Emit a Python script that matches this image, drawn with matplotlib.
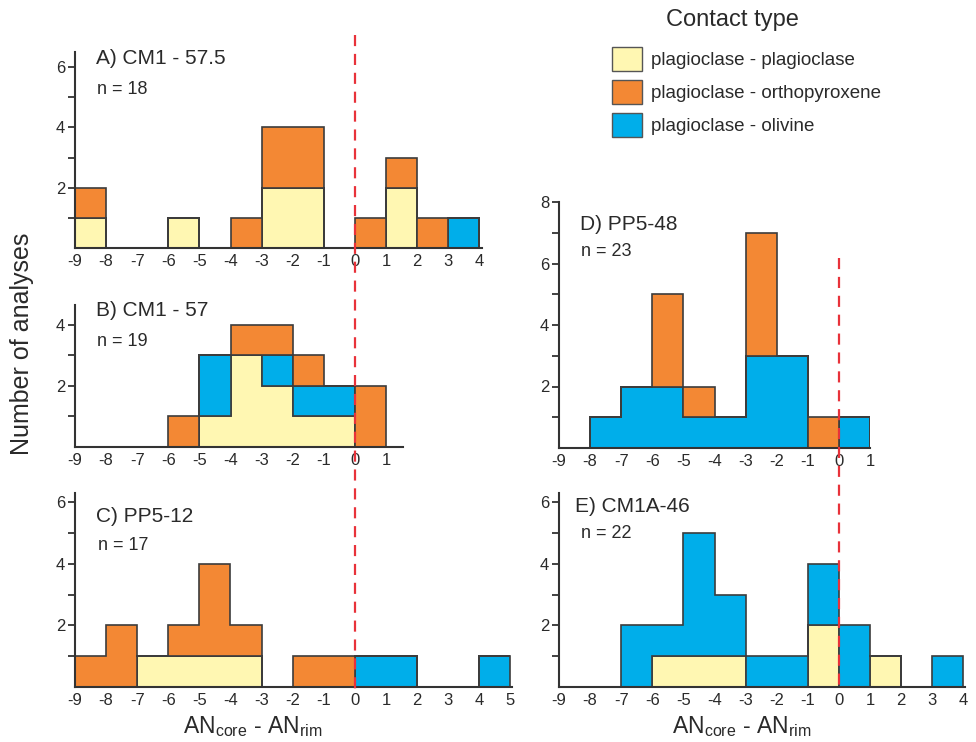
import matplotlib
matplotlib.use("Agg")
import matplotlib.pyplot as plt
import numpy as np
from matplotlib.patches import Patch
from matplotlib.transforms import blended_transform_factory

plt.rcParams['font.family'] = ['Liberation Sans', 'DejaVu Sans']
plt.rcParams['axes.unicode_minus'] = False

# bin edges (AN_core - AN_rim), width 1
edges = np.arange(-9, 6)   # -9 ... 5 -> 14 bins

types = ['plagioclase - plagioclase', 'plagioclase - orthopyroxene', 'plagioclase - olivine']
colors = {'plag': '#FFF7B2', 'opx': '#F38834', 'ol': '#00AEEA'}

# counts per bin:         -9 -8 -7 -6 -5 -4 -3 -2 -1  0  1  2  3  4
A_plag = np.array([1, 0, 0, 1, 0, 0, 2, 2, 0, 0, 2, 0, 0, 0])
A_ol   = np.array([0, 0, 0, 0, 0, 0, 0, 0, 0, 0, 0, 0, 1, 0])
A_opx  = np.array([1, 0, 0, 0, 0, 1, 2, 2, 0, 1, 1, 1, 0, 0])

B_plag = np.array([0, 0, 0, 0, 1, 3, 2, 1, 1, 0, 0, 0, 0, 0])
B_ol   = np.array([0, 0, 0, 0, 2, 0, 1, 1, 1, 0, 0, 0, 0, 0])
B_opx  = np.array([0, 0, 0, 1, 0, 1, 1, 1, 0, 2, 0, 0, 0, 0])

C_plag = np.array([0, 0, 1, 1, 1, 1, 0, 0, 0, 0, 0, 0, 0, 0])
C_ol   = np.array([0, 0, 0, 0, 0, 0, 0, 0, 0, 1, 1, 0, 0, 1])
C_opx  = np.array([1, 2, 0, 1, 3, 1, 0, 1, 1, 0, 0, 0, 0, 0])

D_plag = np.array([0, 0, 0, 0, 0, 0, 0, 0, 0, 0, 0, 0, 0, 0])
D_ol   = np.array([0, 1, 2, 2, 1, 1, 3, 3, 0, 1, 0, 0, 0, 0])
D_opx  = np.array([0, 0, 0, 3, 1, 0, 4, 0, 1, 0, 0, 0, 0, 0])

E_plag = np.array([0, 0, 0, 1, 1, 1, 0, 0, 2, 0, 1, 0, 0, 0])
E_ol   = np.array([0, 0, 2, 1, 4, 2, 1, 1, 2, 2, 0, 0, 1, 0])
E_opx  = np.array([0, 0, 0, 0, 0, 0, 0, 0, 0, 0, 0, 0, 0, 0])

W, H = 976, 742
fig = plt.figure(figsize=(W / 100, H / 100), dpi=100)
txt = '#2a2a2a'


def px(x, y):
    return x / W, 1 - y / H


def make_ax(left, bottom, top, xmax, ymax, yticks):
    # left / bottom / top in pixels, x scale ~31 px per unit
    width = (xmax + 9) * 31.1
    ax = fig.add_axes([left / W, 1 - bottom / H, width / W, (bottom - top) / H])
    ax.set_xlim(-9, xmax)
    ax.set_ylim(0, ymax)
    for s in ['top', 'right']:
        ax.spines[s].set_visible(False)
    for s in ['left', 'bottom']:
        ax.spines[s].set_color('#333333')
        ax.spines[s].set_linewidth(1.5)
    ax.set_yticks(yticks)
    ax.set_yticklabels([str(t) if t % 2 == 0 else '' for t in yticks])
    ax.tick_params(axis='y', length=5, width=1.3, color='#333333', labelsize=12,
                   pad=2, labelcolor=txt)
    ax.tick_params(axis='x', length=0, labelsize=12, pad=4, labelcolor=txt)
    return ax


def draw_stack(ax, plag, ol, opx):
    base = np.zeros(len(plag))
    for vals, c in [(plag, colors['plag']), (ol, colors['ol']), (opx, colors['opx'])]:
        top = base + vals
        if vals.sum() > 0:
            ax.stairs(top, edges, baseline=base, fill=True, facecolor=c,
                      edgecolor='#3c3c3c', linewidth=1.2, zorder=2)
        base = top


axA = make_ax(75, 248, 52, 4.1, 6.5, range(1, 7))
axA.set_xticks(range(-9, 5))
draw_stack(axA, A_plag, A_ol, A_opx)

axB = make_ax(75, 447, 305, 1.55, 4.65, range(1, 5))
axB.set_xticks(range(-9, 2))
draw_stack(axB, B_plag, B_ol, B_opx)

axC = make_ax(75, 687, 493, 5.05, 6.3, range(1, 7))
axC.set_xticks(range(-9, 6))
draw_stack(axC, C_plag, C_ol, C_opx)

axD = make_ax(559, 448, 202, 1.0, 8, range(1, 9))
axD.set_xticks(range(-9, 2))
draw_stack(axD, D_plag, D_ol, D_opx)

axE = make_ax(559, 687, 493, 4.05, 6.3, range(1, 7))
axE.set_xticks(range(-9, 5))
draw_stack(axE, E_plag, E_ol, E_opx)

# red dashed zero lines
red = '#E8323A'
trL = blended_transform_factory(axC.transData, fig.transFigure)
axC.plot([0, 0], [1 - 35 / H, 1 - 690 / H], transform=trL, color=red, lw=1.6,
         ls=(0, (5, 3.5)), clip_on=False, zorder=5)
trR = blended_transform_factory(axE.transData, fig.transFigure)
axE.plot([0, 0], [1 - 258 / H, 1 - 687 / H], transform=trR, color=red, lw=1.6,
         ls=(0, (5, 3.5)), clip_on=False, zorder=5)

# panel labels
labels = [("A) CM1 - 57.5", "n = 18", (96, 58), (97, 89)),
          ("B) CM1 - 57", "n = 19", (96, 311), (97, 342)),
          ("C) PP5-12", "n = 17", (96, 517), (98, 545)),
          ("D) PP5-48", "n = 23", (580, 224), (581, 252)),
          ("E) CM1A-46", "n = 22", (575, 506), (581, 533))]
for title, n, p1, p2 in labels:
    fig.text(*px(*p1), title, fontsize=15, color=txt, va='center', ha='left')
    fig.text(*px(*p2), n, fontsize=13, color=txt, va='center', ha='left')

xlab = r'AN$_\mathregular{core}$ - AN$_\mathregular{rim}$'
fig.text(*px(253, 727), xlab, fontsize=16.5, color=txt, ha='center', va='center')
fig.text(*px(742, 727), xlab, fontsize=16.5, color=txt, ha='center', va='center')
fig.text(*px(22, 344), 'Number of analyses', fontsize=18, color=txt,
         rotation=90, ha='center', va='center')

# legend
handles = [Patch(facecolor=colors[k], edgecolor='#555555', linewidth=1.0)
           for k in ['plag', 'opx', 'ol']]
fig.text(*px(732, 20), 'Contact type', fontsize=17, color=txt, ha='center', va='center')
leg = fig.legend(handles, types, loc='upper left', bbox_to_anchor=px(612, 47),
                 frameon=False, fontsize=13.5, handlelength=1.6, handleheight=1.6,
                 handletextpad=0.5, labelspacing=0.48, borderpad=0, borderaxespad=0)
for t in leg.get_texts():
    t.set_color(txt)

fig.savefig('out.png', dpi=100)
